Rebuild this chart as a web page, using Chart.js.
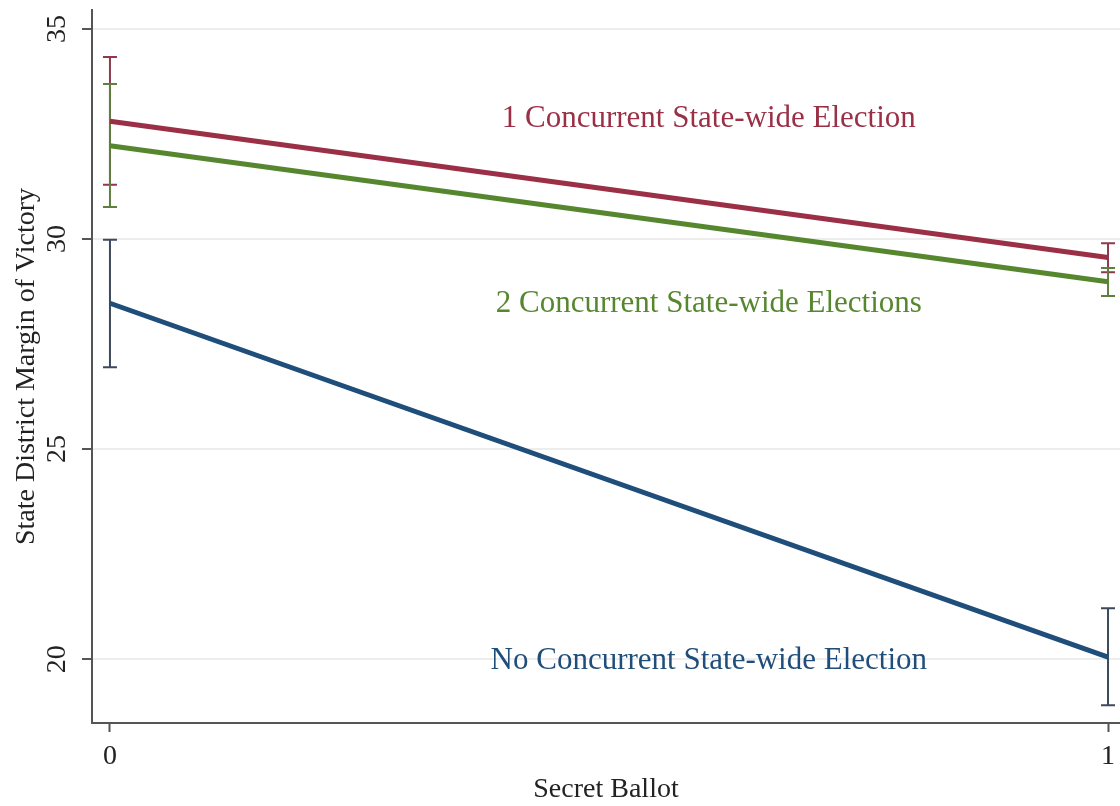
<!DOCTYPE html>
<html>
<head>
<meta charset="utf-8">
<script src="https://cdn.jsdelivr.net/npm/chart.js@4/dist/chart.umd.min.js"></script>
<style>
  html, body { margin: 0; padding: 0; background: #fff; }
  #wrap { width: 1120px; height: 806px; }
</style>
</head>
<body>
<div id="wrap"><canvas id="marginChart"></canvas></div>
<script>
// Secret ballot (0/1) on the x axis
const ballot = [0, 1];
const seriesNames = ['1 Concurrent State-wide Election', '2 Concurrent State-wide Elections', 'No Concurrent State-wide Election'];
// Predicted margins and their confidence bounds
const oneElection = [32.8, 29.56];
const oneElectionLow = [31.29, 29.21];
const oneElectionHigh = [34.33, 29.9];
const twoElections = [32.22, 28.98];
const twoElectionsLow = [30.76, 28.64];
const twoElectionsHigh = [33.69, 29.31];
const noElection = [28.47, 20.05];
const noElectionLow = [26.95, 18.9];
const noElectionHigh = [29.98, 21.21];
const yTicks = [20, 25, 30, 35];
const xTicks = [0, 1];
// where each series name is written (x, y in data units)
const labelX = [0.6, 0.6, 0.6];
const labelY = [32.85, 28.45, 19.95];

const lineColors = ['#9a2f46', '#56872f', '#1f4e7a'];
const barColors = ['#8e3a4c', '#5e7f3e', '#3d4a5c'];
const serif = '"Liberation Serif", "DejaVu Serif", serif';

function pts(vals) {
  return ballot.map((b, i) => ({ x: b, y: vals[i] }));
}

const bounds = [
  [oneElectionLow, oneElectionHigh],
  [twoElectionsLow, twoElectionsHigh],
  [noElectionLow, noElectionHigh]
];

// confidence intervals behind the lines
const errorBars = {
  id: 'errorBars',
  beforeDatasetsDraw(chart) {
    const c = chart.ctx, xs = chart.scales.x, ys = chart.scales.y;
    c.save();
    c.lineWidth = 2;
    bounds.forEach((b, d) => {
      c.strokeStyle = barColors[d];
      ballot.forEach((xv, i) => {
        const px = xs.getPixelForValue(xv);
        const lo = ys.getPixelForValue(b[0][i]);
        const hi = ys.getPixelForValue(b[1][i]);
        c.beginPath();
        c.moveTo(px, lo); c.lineTo(px, hi);
        c.moveTo(px - 7, lo); c.lineTo(px + 7, lo);
        c.moveTo(px - 7, hi); c.lineTo(px + 7, hi);
        c.stroke();
      });
    });
    c.restore();
  }
};

// series names inside the plot, tick labels (y ones rotated)
const textLayer = {
  id: 'textLayer',
  afterDraw(chart) {
    const c = chart.ctx, xs = chart.scales.x, ys = chart.scales.y;
    c.save();
    c.font = '31px ' + serif;
    c.textAlign = 'center';
    c.textBaseline = 'middle';
    seriesNames.forEach((n, i) => {
      c.fillStyle = lineColors[i];
      c.fillText(n, xs.getPixelForValue(labelX[i]), ys.getPixelForValue(labelY[i]));
    });
    c.fillStyle = '#222';
    c.font = '28px ' + serif;
    yTicks.forEach(v => {
      c.save();
      c.translate(58, ys.getPixelForValue(v));
      c.rotate(-Math.PI / 2);
      c.fillText(String(v), 0, 0);
      c.restore();
    });
    xTicks.forEach(v => {
      c.fillText(String(v), xs.getPixelForValue(v), ys.bottom + 34);
    });
    c.restore();
  }
};

new Chart(document.getElementById('marginChart'), {
  type: 'line',
  data: {
    datasets: [
      { label: seriesNames[0], data: pts(oneElection), borderColor: lineColors[0] },
      { label: seriesNames[1], data: pts(twoElections), borderColor: lineColors[1] },
      { label: seriesNames[2], data: pts(noElection), borderColor: lineColors[2] }
    ]
  },
  options: {
    responsive: true,
    maintainAspectRatio: false,
    animation: false,
    layout: { padding: { top: 10, right: 0, left: 0, bottom: 0 } },
    elements: {
      line: { borderWidth: 5, tension: 0 },
      point: { radius: 0 }
    },
    plugins: { legend: { display: false }, tooltip: { enabled: false } },
    scales: {
      x: {
        type: 'linear',
        min: -0.018,
        max: 1.012,
        afterBuildTicks: s => { s.ticks = xTicks.map(v => ({ value: v })); },
        afterFit: s => { s.height = 83; },
        border: { color: '#555', width: 2 },
        grid: { drawOnChartArea: false, tickColor: '#555', tickLength: 9, tickWidth: 2 },
        ticks: { display: false },
        title: { display: true, text: 'Secret Ballot', color: '#222', font: { family: serif, size: 28 }, padding: { top: 0, bottom: 0 } }
      },
      y: {
        min: 18.48,
        max: 35.45,
        afterBuildTicks: s => { s.ticks = yTicks.map(v => ({ value: v })); },
        afterFit: s => { s.width = 92; },
        border: { color: '#555', width: 2 },
        grid: { color: '#ededed', lineWidth: 2, tickColor: '#555', tickLength: 10, tickWidth: 2 },
        ticks: { display: false },
        title: { display: true, text: 'State District Margin of Victory', color: '#222', font: { family: serif, size: 28 }, padding: { top: 10, bottom: 0 } }
      }
    }
  },
  plugins: [errorBars, textLayer]
});
</script>
</body>
</html>
